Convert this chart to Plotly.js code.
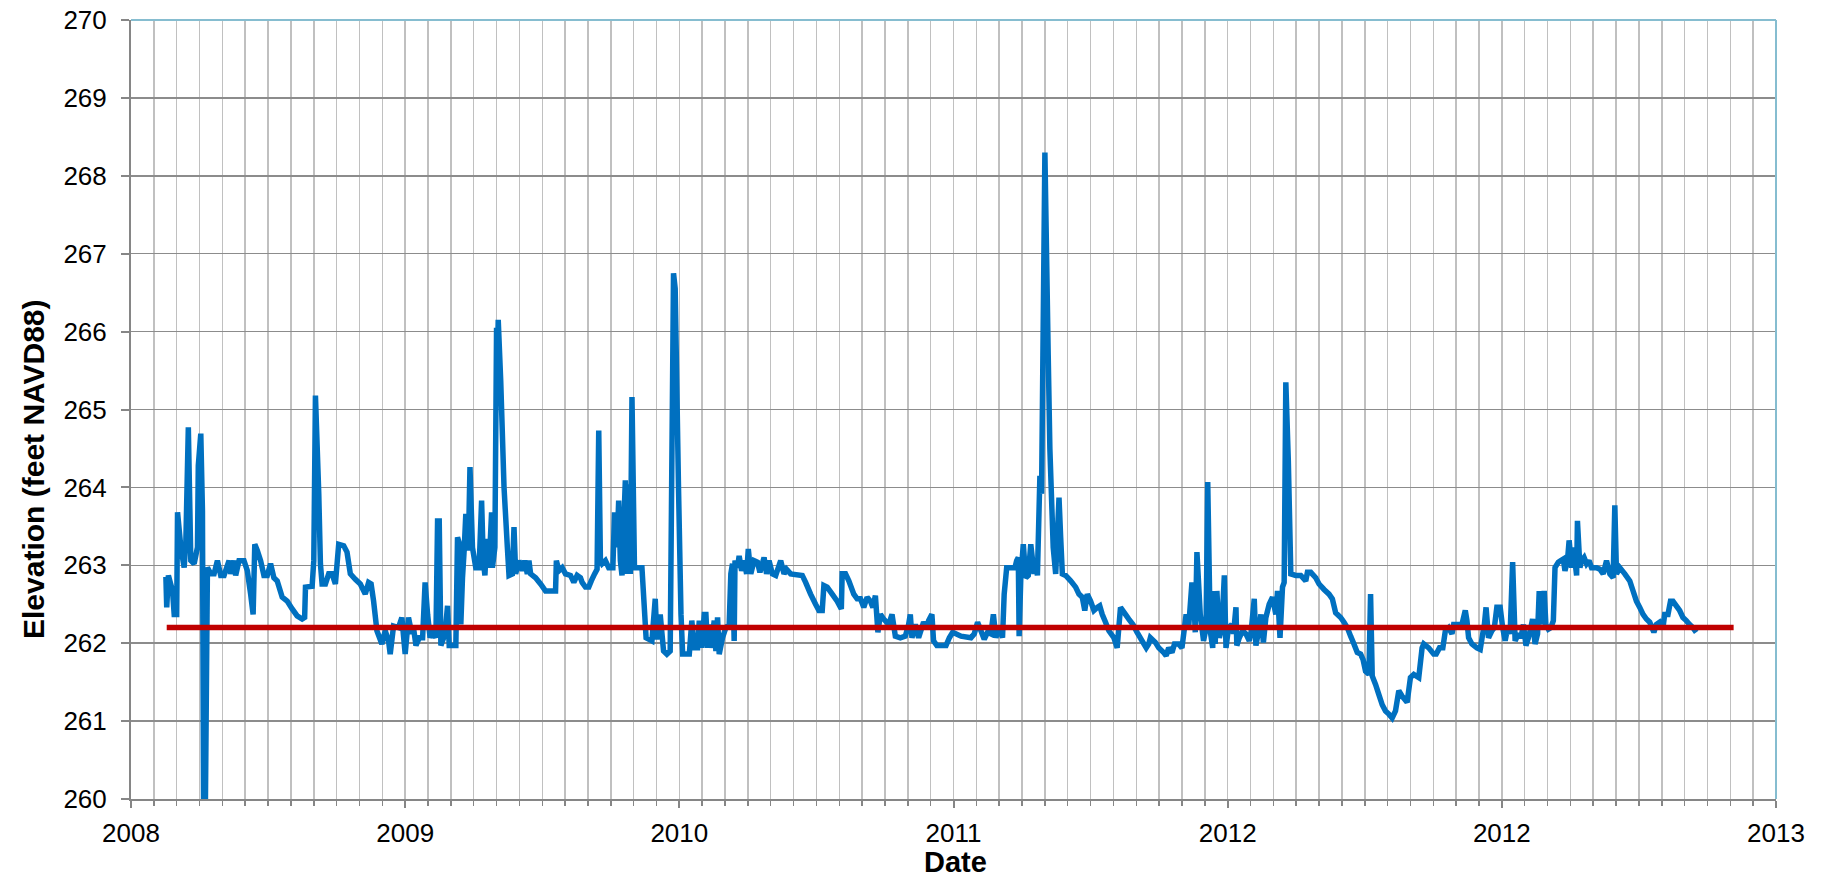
<!DOCTYPE html>
<html>
<head>
<meta charset="utf-8">
<script src="https://cdn.plot.ly/plotly-3.0.1.min.js"></script>
<style>html,body{margin:0;padding:0;background:#fff;}#chart{width:1824px;height:881px;}</style>
</head>
<body>
<div id="chart"></div>
<script>
// Dates as Excel serial day numbers (axis formatted as year)
const dateSerial = [
39642,39643,39645,39650,39652,39655,39656,39660,39664,39666,39669,39672,39676,39680,39681,39684,39686,39688,39692,39696,
39700,39704,39708,39712,39718,39720,39724,39726,39730,39736,39740,39744,39747,39749,39752,39756,39760,39764,39768,39772,
39776,39782,39788,39794,39800,39806,39809,39810,39818,39820,39822,39826,39828,39830,39834,39838,39842,39846,39850,39856,
39860,39864,39870,39876,39882,39886,39889,39892,39896,39902,39906,39910,39912,39916,39922,39926,39930,39934,39938,
39940,39943,39947,39951,39954,39957,39960,39963,39967,39969,39971,39973,39975,39978,39981,39983,39991,39993,39995,39997,
39999,40001,40003,40006,40008,40011,40015,40019,40022,40024,40026,40028,40031,40034,40035,40038,40040,40041,40042,40045,
40049,40053,40055,40059,40061,40063,40067,40071,40074,40077,40079,40081,40087,40093,40099,40111,40112,40115,40119,40123,
40129,40133,40137,40141,40143,40147,40151,40154,40158,40161,40163,40165,40167,40171,40175,40180,40182,40185,40187,40189,
40191,40195,40197,40199,40201,40203,40206,40215,40220,40227,40231,40233,40237,40241,40245,40249,40253,40255,40259,40262,
40264,40272,40275,40278,40282,40284,40287,40290,40292,40294,40296,40298,40302,40304,40306,40308,40312,40316,40320,40322,
40324,40326,40327,40330,40332,40335,40338,40341,40343,40346,40350,40354,40357,40362,40365,40368,40372,40376,40382,40386,
40389,40394,40408,40412,40418,40424,40428,40432,40434,40438,40444,40450,40455,40456,40460,40464,40470,40474,40478,40482,
40486,40490,40493,40496,40499,40502,40506,40512,40516,40520,40526,40532,40536,40538,40540,40544,40548,40554,40558,40560,
40564,40566,40570,
40581,40585,40589,40599,40611,40615,40619,40623,40627,40631,40635,40638,40641,40645,40649,40651,40654,40664,40666,40668,
40669,40671,40674,40677,40680,40683,40687,40689,40691,40694,40696,40700,40702,40704,40706,40710,40713,40717,40719,40721,
40725,40731,40737,40741,40745,40748,40751,40755,40759,40763,40766,40769,40773,40777,40783,40787,40791,40797,40801,40806,
40811,40817,40822,40825,40827,40833,40837,40843,40846,40849,40853,40856,40861,40865,40870,40873,40877,40879,40881,40883,
40887,40891,40894,40896,40899,40902,40903,40905,40907,40910,40913,40916,40918,40921,40925,40927,40930,40931,40934,40938,
40942,40946,40948,40952,40954,40958,40960,40963,40966,40970,40974,40978,40980,40983,40986,40988,40990,40993,40996,41002,
41008,41014,41016,41020,41026,41030,41036,41042,41046,41050,41056,41060,41064,41068,41072,41076,41080,41083,41086,41090,
41092,41094,41098,41102,41106,41110,41114,41118,41122,41126,41130,41136,41140,41144,41150,41154,41156,41162,41168,41171,
41175,41179,41182,41186,41190,41192,41198,
41202,41206,41208,41210,41214,41220,41224,41227,41229,41231,41234,41238,41241,41244,41248,41251,41254,41257,41260,41263,
41266,41270,41273,41276,41279,41282,41285,41287,41290,41293,41295,41298,41301,41303,41306,41309,41312,41314,41318,41321,
41324,41326,41329,41331,41334,41336,41338,41340,41341,41344,41346,41349,41352,41355,41358,41364,41368,41372,41376,41380,
41384,41386,41388,41392,41398,41404,41408,41412,41416,41420,41424,41428,41433,41436,41440,41444,41446,41450,41453,41456,
41460,41464,41468,41472,41476,41480,41484
];
const elevation = [
262.85,262.46,262.87,262.67,262.37,262.37,263.68,263.23,262.97,263.29,264.77,263.06,263.02,263.23,264.28,264.69,263.70,258.00,262.97,262.89,
262.89,263.06,262.87,262.87,263.06,262.89,263.06,262.87,263.06,263.06,262.93,262.63,262.37,263.27,263.19,263.06,262.87,262.87,263.02,262.84,
262.80,262.59,262.54,262.44,262.35,262.31,262.33,262.72,262.73,263.06,265.18,263.92,263.02,262.76,262.76,262.89,262.89,262.76,263.27,263.25,
263.17,262.89,262.82,262.76,262.63,262.78,262.76,262.54,262.16,261.99,262.16,262.03,261.86,262.22,262.20,262.33,261.86,262.33,262.12,
262.20,261.97,262.07,262.07,262.78,262.37,262.07,262.16,262.07,263.57,263.57,261.97,262.03,262.12,262.48,261.97,261.97,263.36,263.29,262.24,
262.84,263.19,263.66,263.19,264.26,263.23,262.97,262.97,263.83,263.06,262.87,263.34,262.97,263.68,262.97,263.23,266.05,265.60,266.15,265.37,
264.00,263.23,262.87,262.89,263.49,262.89,263.06,262.93,263.06,262.89,263.06,262.89,262.84,262.76,262.67,262.67,263.06,262.93,262.97,262.89,
262.87,262.78,262.87,262.84,262.78,262.72,262.72,262.80,262.89,262.95,264.73,263.06,263.02,263.06,262.97,262.97,263.68,263.23,263.83,263.06,
262.87,264.09,262.89,264.04,262.89,265.16,262.97,262.97,262.07,262.03,262.57,262.05,262.37,261.90,261.86,261.90,266.75,266.55,264.00,262.37,
261.86,261.86,262.29,261.94,261.94,262.29,261.94,262.37,262.37,261.94,262.24,261.94,262.29,261.90,262.33,261.86,262.07,262.20,262.24,262.89,
263.02,262.03,263.06,262.97,263.12,262.93,263.06,262.89,263.21,262.89,263.06,263.04,262.91,263.10,262.89,263.06,262.89,262.87,263.06,262.89,
262.95,262.89,262.87,262.78,262.63,262.50,262.42,262.42,262.74,262.72,262.63,262.54,262.44,262.89,262.89,262.80,262.63,262.57,262.57,262.46,
262.59,262.54,262.46,262.61,262.14,262.37,262.31,262.24,262.37,262.09,262.07,262.09,262.24,262.37,262.07,262.24,262.07,262.27,262.20,262.29,
262.37,262.03,261.97,
261.97,262.07,262.14,262.09,262.07,262.12,262.27,262.16,262.05,262.14,262.12,262.37,262.07,262.20,262.07,262.63,262.97,262.97,263.06,263.10,
262.09,262.84,263.27,262.84,262.87,263.27,262.89,263.06,262.87,264.15,263.92,268.30,267.00,265.70,264.50,263.23,262.89,263.87,263.36,262.89,
262.87,262.80,262.72,262.63,262.59,262.42,262.63,262.54,262.42,262.46,262.48,262.37,262.27,262.16,262.07,261.94,262.46,262.37,262.31,262.24,
262.14,262.03,261.94,261.99,262.07,262.01,261.94,261.88,261.84,261.94,261.88,261.99,261.99,261.94,262.37,262.20,262.78,262.63,262.14,263.17,
262.37,262.03,262.20,264.07,262.16,261.94,262.67,261.99,262.67,262.07,262.20,262.87,261.94,262.20,262.24,262.12,262.46,261.97,262.07,262.16,
262.12,262.03,262.12,262.57,261.97,262.20,262.37,262.01,262.33,262.50,262.59,262.37,262.67,262.07,262.72,262.78,265.35,264.34,262.89,262.87,
262.87,262.80,262.91,262.91,262.84,262.76,262.69,262.63,262.57,262.39,262.33,262.27,262.20,262.09,261.99,261.88,261.86,261.79,261.64,261.60,
262.63,261.58,261.47,261.34,261.21,261.13,261.09,261.04,261.13,261.39,261.32,261.24,261.56,261.60,261.56,261.94,261.99,261.94,261.86,261.86,
261.94,261.94,262.16,262.20,262.12,262.24,262.24,
262.24,262.42,262.29,262.07,261.99,261.94,261.92,262.12,262.24,262.46,262.07,262.16,262.20,262.46,262.46,262.20,262.03,262.20,262.12,263.04,
262.03,262.12,262.07,262.24,261.97,262.07,262.20,262.31,261.99,262.12,262.67,262.24,262.67,262.24,262.18,262.20,262.29,262.97,263.04,263.06,
263.08,262.93,263.06,263.32,262.97,263.23,263.06,262.87,263.57,262.97,263.06,263.10,263.02,263.06,262.97,262.97,262.95,262.89,263.06,262.89,
262.84,263.77,262.89,262.97,262.89,262.80,262.67,262.54,262.46,262.37,262.31,262.27,262.14,262.24,262.27,262.20,262.37,262.37,262.54,262.54,
262.48,262.42,262.33,262.29,262.24,262.20,262.14
];
// Reference level line
const refSerial = [39643, 41529];
const refLevel = [262.2, 262.2];
// Axis ticks (serial positions and their labels as shown)
const xTickVals = [39600, 39930, 40260, 40590, 40920, 41250, 41580];
const xTickText = ['2008', '2009', '2010', '2011', '2012', '2012', '2013'];
const yTickVals = [260, 261, 262, 263, 264, 265, 266, 267, 268, 269, 270];

const FONT = 'Liberation Sans, Arial, Helvetica, sans-serif';
const traces = [
  {x: dateSerial, y: elevation, type: 'scatter', mode: 'lines',
   line: {color: '#0070C0', width: 5.5, simplify: false}, hoverinfo: 'x+y', showlegend: false},
  {x: refSerial, y: refLevel, type: 'scatter', mode: 'lines',
   line: {color: '#C00000', width: 5.5}, showlegend: false}
];
const layout = {
  width: 1824, height: 881,
  margin: {l: 131, r: 48, t: 20, b: 82},
  paper_bgcolor: '#ffffff', plot_bgcolor: '#ffffff',
  font: {family: FONT, color: '#000000', size: 26},
  showlegend: false,
  xaxis: {
    type: 'linear', range: [39600, 41580], autorange: false,
    tickmode: 'array', tickvals: xTickVals, ticktext: xTickText,
    ticks: 'outside', ticklen: 7, tickwidth: 2, tickcolor: '#868686',
    showline: true, linecolor: '#868686', linewidth: 2,
    showgrid: true, gridcolor: '#c0c0c0', gridwidth: 1.5, zeroline: false,
    tickfont: {family: FONT, size: 26, color: '#000'},
    ticklabelstandoff: 3,
    minor: {tick0: 39600, dtick: 27.5, showgrid: true, gridcolor: '#c0c0c0', gridwidth: 1.5,
            ticks: 'outside', ticklen: 5, tickwidth: 1.5, tickcolor: '#868686'}
  },
  yaxis: {
    range: [260, 270], autorange: false,
    tickmode: 'array', tickvals: yTickVals,
    ticks: 'outside', ticklen: 8, tickwidth: 2, tickcolor: '#868686',
    showline: true, linecolor: '#868686', linewidth: 2,
    showgrid: true, gridcolor: '#8c8c8c', gridwidth: 1.5, zeroline: false,
    tickfont: {family: FONT, size: 26, color: '#000'},
    ticklabelstandoff: 9
  },
  shapes: [
    {type: 'line', xref: 'paper', yref: 'paper', x0: 0, x1: 1, y0: 1, y1: 1, line: {color: '#86bdd0', width: 2}},
    {type: 'line', xref: 'paper', yref: 'paper', x0: 1, x1: 1, y0: 0, y1: 1, line: {color: '#86bdd0', width: 2}}
  ],
  annotations: [
    {text: '<b>Date</b>', xref: 'paper', yref: 'paper', x: 0.501, y: -0.081, xanchor: 'center', yanchor: 'middle',
     showarrow: false, font: {family: FONT, size: 29, color: '#000'}},
    {text: '<b>Elevation (feet NAVD88)</b>', xref: 'paper', yref: 'paper', x: -0.0596, y: 0.4236, xanchor: 'center', yanchor: 'middle',
     textangle: -90, showarrow: false, font: {family: FONT, size: 30, color: '#000'}}
  ]
};
Plotly.newPlot('chart', traces, layout, {staticPlot: true, displayModeBar: false});
</script>
</body>
</html>
